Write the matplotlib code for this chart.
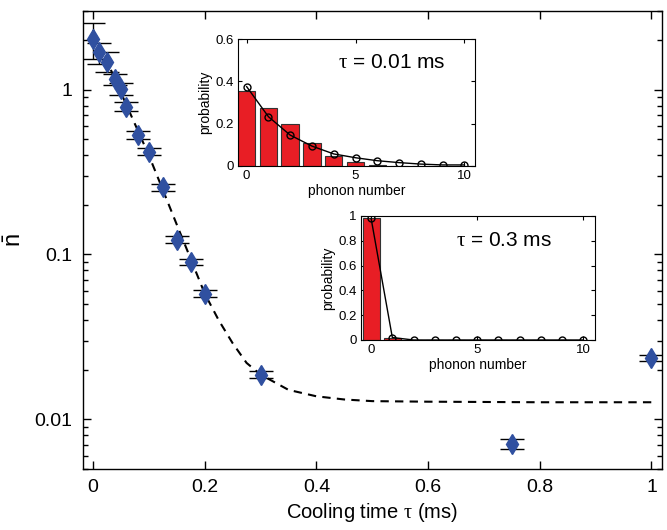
import matplotlib
matplotlib.use("Agg")
import matplotlib.pyplot as plt
from matplotlib.ticker import FixedLocator, NullFormatter, LogLocator

plt.rcParams["font.family"] = ["Liberation Sans", "DejaVu Sans"]
plt.rcParams["mathtext.fontset"] = "custom"
plt.rcParams["mathtext.rm"] = "Liberation Sans"
plt.rcParams["mathtext.it"] = "Liberation Serif"

# main data: mean phonon number vs cooling time
tau = [0.0, 0.01, 0.025, 0.04, 0.05, 0.06, 0.08, 0.1, 0.125, 0.15, 0.175, 0.2, 0.3, 0.75, 1.0]
nbar = [2.03, 1.68, 1.48, 1.16, 1.01, 0.79, 0.53, 0.42, 0.256, 0.123, 0.09, 0.058, 0.0187, 0.0071, 0.0237]
nbar_err = [0.5, 0.24, 0.2, 0.09, 0.08, 0.05, 0.03, 0.02, 0.012, 0.006, 0.004, 0.003, 0.001, 0.0005, 0.001]

# dashed fit curve
fit_tau = [0.0, 0.025, 0.05, 0.075, 0.1, 0.125, 0.15, 0.175, 0.2, 0.225, 0.25, 0.275, 0.3,
           0.35, 0.4, 0.45, 0.5, 0.6, 0.8, 1.0]
fit_nbar = [2.3, 1.49, 0.96, 0.62, 0.40, 0.247, 0.152, 0.094, 0.058, 0.040, 0.029, 0.022, 0.0187,
            0.0151, 0.0138, 0.0132, 0.0129, 0.0128, 0.0127, 0.0127]

# insets: phonon number distributions
phonon_n = list(range(11))
prob_bar_a = [0.355, 0.272, 0.197, 0.107, 0.046, 0.017, 0.003, 0.002, 0.001, 0.0, 0.0]
prob_fit_a = [0.375, 0.233, 0.146, 0.094, 0.057, 0.039, 0.025, 0.016, 0.009, 0.005, 0.005]
prob_bar_b = [0.98, 0.015, 0.003, 0.0, 0.0, 0.0, 0.0, 0.0, 0.0, 0.0, 0.0]
prob_fit_b = [0.98, 0.02, 0.0, 0.0, 0.0, 0.0, 0.0, 0.0, 0.0, 0.0, 0.0]

fig = plt.figure(figsize=(6.67, 5.3), dpi=100)
ax = fig.add_axes([0.1244, 0.1151, 0.8681, 0.8642])

ax.plot(fit_tau, fit_nbar, color="k", lw=1.5, dashes=(4, 3), zorder=1)
ax.errorbar(tau, nbar, yerr=nbar_err, fmt="none", ecolor="k", elinewidth=1,
            capsize=8.5, capthick=1, zorder=2)
ax.plot(tau, nbar, "d", color="#3050a0", ms=10, mec="#3050a0", zorder=3)

ax.set_yscale("log")
ax.set_xlim(-0.0179, 1.0188)
ax.set_ylim(0.005, 3.0)
ax.set_xticks([0, 0.2, 0.4, 0.6, 0.8, 1.0])
ax.set_xticklabels(["0", "0.2", "0.4", "0.6", "0.8", "1"])
ax.yaxis.set_major_locator(FixedLocator([0.01, 0.1, 1]))
ax.set_yticklabels(["0.01", "0.1", "1"])
ax.yaxis.set_minor_locator(LogLocator(base=10, subs=range(2, 10), numticks=20))
ax.yaxis.set_minor_formatter(NullFormatter())
ax.tick_params(which="both", direction="in", top=True, right=True, labelsize=14, width=1)
ax.tick_params(which="major", length=6, pad=7.5)
ax.tick_params(which="minor", length=3.5)
for s in ax.spines.values():
    s.set_linewidth(1)
ax.set_xlabel(r"Cooling time $\tau$ (ms)", fontsize=14.5, labelpad=3)
ax.set_ylabel(r"$\bar{\mathrm{n}}$", fontsize=17, labelpad=6)


def draw_inset(rect, bars, fit, ylim, yticks, ylabels, xlim, label, label_pos):
    ins = fig.add_axes(rect)
    ins.set_facecolor("white")
    ins.bar(phonon_n, bars, width=0.8, color="#e81e25", edgecolor="#333333", linewidth=0.8, zorder=2)
    ins.plot(phonon_n, fit, "-o", color="k", lw=1, ms=5, mfc="none", mec="k", mew=1, zorder=3)
    ins.set_xlim(*xlim)
    ins.set_ylim(*ylim)
    ins.set_xticks([0, 5, 10])
    ins.set_yticks(yticks)
    ins.set_yticklabels(ylabels)
    ins.tick_params(direction="in", top=True, right=True, labelsize=9.5, length=3, pad=3)
    ins.set_xlabel("phonon number", fontsize=10, labelpad=1)
    ins.set_ylabel("probability", fontsize=10, labelpad=2)
    ins.text(label_pos[0], label_pos[1], label, fontsize=15, ha="left", va="center")
    return ins


draw_inset([0.3564, 0.6868, 0.3558, 0.2396], prob_bar_a, prob_fit_a, (0, 0.6),
           [0, 0.2, 0.4, 0.6], ["0", "0.2", "0.4", "0.6"], (-0.41, 10.49),
           r"$\tau$ = 0.01 ms", (4.2, 0.49))
draw_inset([0.5408, 0.3585, 0.3513, 0.234], prob_bar_b, prob_fit_b, (0, 1.0),
           [0, 0.2, 0.4, 0.6, 0.8, 1.0], ["0", "0.2", "0.4", "0.6", "0.8", "1"], (-0.49, 10.55),
           r"$\tau$ = 0.3 ms", (4.0, 0.8))

fig.savefig("out.png", dpi=100)
